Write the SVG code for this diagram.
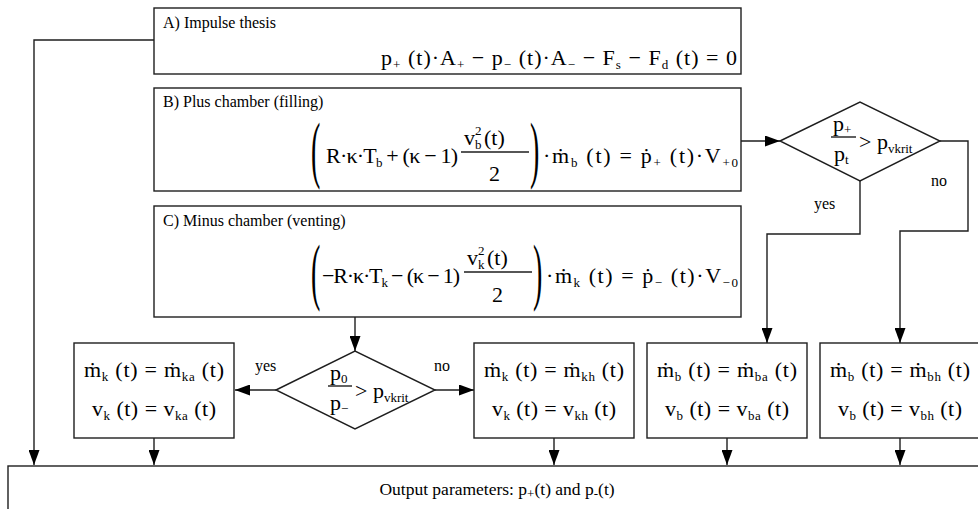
<svg xmlns="http://www.w3.org/2000/svg" width="978" height="509" viewBox="0 0 978 509">
<defs>
<style>
.bx{fill:#fff;stroke:#1e1e1e;stroke-width:1.4}
.ln{fill:none;stroke:#1e1e1e;stroke-width:1.4}
.t{font-family:"Liberation Serif",serif;font-size:16px;fill:#000}
.fm{font-family:"Liberation Serif",serif;font-size:22px;fill:#000}
.sb{font-size:13px}
.big{font-family:"Liberation Serif",serif;font-size:28px;fill:#000}
</style>
<marker id="ar" viewBox="0 0 15 11" markerWidth="15" markerHeight="11" refX="15" refY="5.5" orient="auto" markerUnits="userSpaceOnUse"><path d="M0,0 L15,5.5 L0,11 z" fill="#000"/></marker>
</defs>

<g id="connectors">
<path class="ln" d="M154,40 H34 V465" marker-end="url(#ar)"/>
<path class="ln" d="M741,141 H780" marker-end="url(#ar)"/>
<path class="ln" d="M860,181 V234 H767 V343" marker-end="url(#ar)"/>
<path class="ln" d="M940,141 H968 V231 H900 V343" marker-end="url(#ar)"/>
<path class="ln" d="M355,317 V351" marker-end="url(#ar)"/>
<path class="ln" d="M276,390 H235" marker-end="url(#ar)"/>
<path class="ln" d="M435,390 H474" marker-end="url(#ar)"/>
<path class="ln" d="M154,438 V465" marker-end="url(#ar)"/>
<path class="ln" d="M554,438 V465" marker-end="url(#ar)"/>
<path class="ln" d="M727,438 V465" marker-end="url(#ar)"/>
<path class="ln" d="M900,438 V465" marker-end="url(#ar)"/>
<text class="t" x="814" y="209">yes</text>
<text class="t" x="931" y="186">no</text>
<text class="t" x="255" y="371">yes</text>
<text class="t" x="434" y="371">no</text>
</g>

<g id="boxA">
<rect class="bx" x="154" y="8" width="587" height="66"/>
<text class="t" x="163" y="28">A) Impulse thesis</text>
<text class="fm" x="381" y="65" textLength="356" lengthAdjust="spacing">p<tspan class="sb" dy="4">+</tspan><tspan dy="-4"> (t)·A</tspan><tspan class="sb" dy="4">+</tspan><tspan dy="-4"> − p</tspan><tspan class="sb" dy="4">−</tspan><tspan dy="-4"> (t)·A</tspan><tspan class="sb" dy="4">−</tspan><tspan dy="-4"> − F</tspan><tspan class="sb" dy="4">s</tspan><tspan dy="-4"> − F</tspan><tspan class="sb" dy="4">d</tspan><tspan dy="-4"> (t) = 0</tspan></text>
</g>

<g id="boxB">
<rect class="bx" x="154" y="88" width="587" height="103"/>
<text class="t" x="163" y="107">B) Plus chamber (filling)</text>
<text class="big" transform="translate(311,174) scale(1,2.68)">(</text>
<text class="fm" x="326" y="163" textLength="132" lengthAdjust="spacing">R·κ·T<tspan class="sb" dy="4">b</tspan><tspan dy="-4"> + (κ − 1)</tspan></text>
<text class="fm" x="464" y="145">v</text>
<text class="fm sb" x="475" y="135">2</text>
<text class="fm sb" x="475" y="149">b</text>
<text class="fm" x="484" y="145">(t)</text>
<line class="ln" x1="461" y1="152" x2="529" y2="152"/>
<text class="fm" x="489" y="181">2</text>
<text class="big" transform="translate(530,174) scale(1,2.68)">)</text>
<text class="fm" x="543" y="163" textLength="195" lengthAdjust="spacing">·ṁ<tspan class="sb" dy="4">b</tspan><tspan dy="-4"> (t) = ṗ</tspan><tspan class="sb" dy="4">+</tspan><tspan dy="-4"> (t)·V</tspan><tspan class="sb" dy="4">+0</tspan></text>
</g>

<g id="boxC">
<rect class="bx" x="154" y="206" width="587" height="111"/>
<text class="t" x="163" y="226">C) Minus chamber (venting)</text>
<text class="big" transform="translate(311,296) scale(1,2.68)">(</text>
<text class="fm" x="322" y="283" textLength="138" lengthAdjust="spacing">−R·κ·T<tspan class="sb" dy="4">k</tspan><tspan dy="-4"> − (κ − 1)</tspan></text>
<text class="fm" x="467" y="265">v</text>
<text class="fm sb" x="478" y="255">2</text>
<text class="fm sb" x="478" y="269">k</text>
<text class="fm" x="487" y="265">(t)</text>
<line class="ln" x1="464" y1="272" x2="532" y2="272"/>
<text class="fm" x="492" y="302">2</text>
<text class="big" transform="translate(533,296) scale(1,2.68)">)</text>
<text class="fm" x="546" y="283" textLength="192" lengthAdjust="spacing">·ṁ<tspan class="sb" dy="4">k</tspan><tspan dy="-4"> (t) = ṗ</tspan><tspan class="sb" dy="4">−</tspan><tspan dy="-4"> (t)·V</tspan><tspan class="sb" dy="4">−0</tspan></text>
</g>

<g id="decision1">
<polygon class="bx" points="780,141 860,102 940,141 860,181"/>
<text class="fm" x="833" y="131">p<tspan class="sb" dy="3">+</tspan></text>
<line class="ln" x1="831" y1="137" x2="856" y2="137"/>
<text class="fm" x="834" y="161">p<tspan class="sb" dy="3">t</tspan></text>
<text class="fm" x="859" y="149">&gt; p<tspan class="sb" dy="4">vkrit</tspan></text>
</g>

<g id="decision2">
<polygon class="bx" points="276,390 355,351 435,390 355,429"/>
<text class="fm" x="330" y="380">p<tspan class="sb" dy="3">0</tspan></text>
<line class="ln" x1="328" y1="386" x2="352" y2="386"/>
<text class="fm" x="330" y="410">p<tspan class="sb" dy="3">−</tspan></text>
<text class="fm" x="355" y="398">&gt; p<tspan class="sb" dy="4">vkrit</tspan></text>
</g>

<g id="boxKA">
<rect class="bx" x="74" y="343" width="160" height="95"/>
<text class="fm" x="84" y="377" textLength="140" lengthAdjust="spacing">ṁ<tspan class="sb" dy="4">k</tspan><tspan dy="-4"> (t) = ṁ</tspan><tspan class="sb" dy="4">ka</tspan><tspan dy="-4"> (t)</tspan></text>
<text class="fm" x="92" y="416" textLength="124" lengthAdjust="spacing">v<tspan class="sb" dy="4">k</tspan><tspan dy="-4"> (t) = v</tspan><tspan class="sb" dy="4">ka</tspan><tspan dy="-4"> (t)</tspan></text>
</g>

<g id="boxKH">
<rect class="bx" x="474" y="343" width="160" height="95"/>
<text class="fm" x="484" y="377" textLength="140" lengthAdjust="spacing">ṁ<tspan class="sb" dy="4">k</tspan><tspan dy="-4"> (t) = ṁ</tspan><tspan class="sb" dy="4">kh</tspan><tspan dy="-4"> (t)</tspan></text>
<text class="fm" x="492" y="416" textLength="124" lengthAdjust="spacing">v<tspan class="sb" dy="4">k</tspan><tspan dy="-4"> (t) = v</tspan><tspan class="sb" dy="4">kh</tspan><tspan dy="-4"> (t)</tspan></text>
</g>

<g id="boxBA">
<rect class="bx" x="647" y="343" width="160" height="95"/>
<text class="fm" x="657" y="377" textLength="140" lengthAdjust="spacing">ṁ<tspan class="sb" dy="4">b</tspan><tspan dy="-4"> (t) = ṁ</tspan><tspan class="sb" dy="4">ba</tspan><tspan dy="-4"> (t)</tspan></text>
<text class="fm" x="665" y="416" textLength="124" lengthAdjust="spacing">v<tspan class="sb" dy="4">b</tspan><tspan dy="-4"> (t) = v</tspan><tspan class="sb" dy="4">ba</tspan><tspan dy="-4"> (t)</tspan></text>
</g>

<g id="boxBH">
<rect class="bx" x="820" y="343" width="162" height="95"/>
<text class="fm" x="830" y="377" textLength="140" lengthAdjust="spacing">ṁ<tspan class="sb" dy="4">b</tspan><tspan dy="-4"> (t) = ṁ</tspan><tspan class="sb" dy="4">bh</tspan><tspan dy="-4"> (t)</tspan></text>
<text class="fm" x="838" y="416" textLength="124" lengthAdjust="spacing">v<tspan class="sb" dy="4">b</tspan><tspan dy="-4"> (t) = v</tspan><tspan class="sb" dy="4">bh</tspan><tspan dy="-4"> (t)</tspan></text>
</g>

<g id="output">
<rect class="bx" x="8" y="466" width="1000" height="100"/>
<text class="t" x="497" y="495" text-anchor="middle" style="font-size:17.5px">Output parameters: p<tspan class="sb" dy="3">+</tspan><tspan dy="-3">(t) and p</tspan><tspan class="sb" dy="3">-</tspan><tspan dy="-3">(t)</tspan></text>
</g>
</svg>
